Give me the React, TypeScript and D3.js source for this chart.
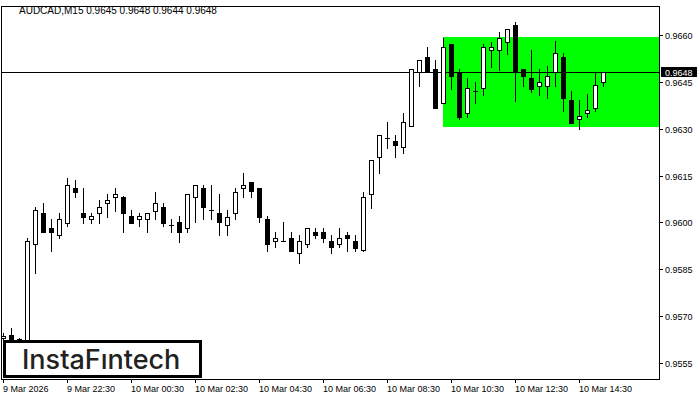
import React from "react";
import * as d3 from "d3";

const symbolTitle = "AUDCAD,M15  0.9645 0.9648 0.9644 0.9648";

const opens = [0.9563, 0.9564, 0.95627, 0.9561, 0.95931, 0.9603, 0.95982, 0.9596, 0.95998, 0.9611,
  0.9603, 0.96011, 0.9603, 0.96062, 0.96082, 0.96082, 0.96021, 0.96011, 0.96011, 0.96037,
  0.9605, 0.95992, 0.96002, 0.95982, 0.96082, 0.9611, 0.9604, 0.9603, 0.95992, 0.9603,
  0.9611, 0.9613, 0.9611, 0.96011, 0.95941, 0.95941, 0.9595, 0.95902, 0.95931, 0.9597,
  0.9597, 0.95941, 0.95931, 0.9596, 0.95941, 0.95912, 0.96091, 0.9621, 0.9627, 0.96261,
  0.96242, 0.96309, 0.96482, 0.9653, 0.96491, 0.96382, 0.96571, 0.96482, 0.9635, 0.96421,
  0.9643, 0.96552, 0.96552, 0.96578, 0.96632, 0.96491, 0.96462, 0.96437, 0.96437, 0.96482,
  0.9653, 0.96392, 0.96331, 0.9635, 0.96366, 0.9645];
const highs = [0.95645, 0.95662, 0.9563, 0.9595, 0.9605, 0.96062, 0.96011, 0.9603, 0.96142, 0.96136,
  0.9611, 0.9603, 0.96072, 0.96091, 0.9611, 0.96085, 0.9604, 0.9603, 0.9603, 0.96098,
  0.96062, 0.96011, 0.96021, 0.96091, 0.9612, 0.9612, 0.9612, 0.96091, 0.9604, 0.9611,
  0.96158, 0.9613, 0.9611, 0.96021, 0.9597, 0.96002, 0.9597, 0.9596, 0.95982, 0.95982,
  0.95982, 0.9596, 0.95982, 0.9597, 0.9596, 0.96098, 0.962, 0.9628, 0.96322, 0.9628,
  0.9635, 0.96491, 0.9652, 0.96562, 0.9652, 0.9659, 0.96571, 0.96491, 0.96462, 0.9645,
  0.96571, 0.96578, 0.9661, 0.96619, 0.96642, 0.96491, 0.96552, 0.96491, 0.96501, 0.96581,
  0.96542, 0.96421, 0.96392, 0.96411, 0.96482, 0.96482];
const lows = [0.9562, 0.95624, 0.9562, 0.956, 0.95838, 0.9597, 0.95909, 0.9595, 0.95989, 0.96082,
  0.95998, 0.95998, 0.95998, 0.96018, 0.96037, 0.9597, 0.95998, 0.95989, 0.9597, 0.96011,
  0.95989, 0.9597, 0.95938, 0.9597, 0.96002, 0.96011, 0.96011, 0.9596, 0.9596, 0.96011,
  0.96082, 0.96082, 0.96002, 0.95909, 0.95922, 0.95941, 0.95909, 0.9587, 0.95922, 0.9595,
  0.95938, 0.95902, 0.95922, 0.95909, 0.95909, 0.95909, 0.96046, 0.96158, 0.96238, 0.9621,
  0.96222, 0.96309, 0.96437, 0.96482, 0.96366, 0.96382, 0.96427, 0.96331, 0.96338, 0.96382,
  0.96408, 0.96498, 0.96488, 0.96539, 0.96389, 0.96437, 0.96418, 0.96408, 0.96398, 0.96437,
  0.96357, 0.96318, 0.96299, 0.96338, 0.96357, 0.96437];
const closes = [0.95635, 0.95624, 0.95627, 0.95941, 0.9604, 0.9597, 0.9597, 0.96011, 0.9612, 0.96098,
  0.96018, 0.96021, 0.9605, 0.96072, 0.96091, 0.9603, 0.95998, 0.96021, 0.9603, 0.96062,
  0.95998, 0.95992, 0.9597, 0.96091, 0.9612, 0.9605, 0.9604, 0.96002, 0.96018, 0.96098,
  0.9612, 0.96101, 0.96018, 0.95931, 0.9595, 0.95941, 0.95909, 0.95941, 0.95982, 0.9596,
  0.9595, 0.95922, 0.9595, 0.9595, 0.95918, 0.96082, 0.962, 0.9628, 0.9627, 0.96248,
  0.96322, 0.96491, 0.9652, 0.96482, 0.96366, 0.96562, 0.96469, 0.96338, 0.9643, 0.96421,
  0.96562, 0.96562, 0.9659, 0.96619, 0.96482, 0.96469, 0.96427, 0.9645, 0.96469, 0.96542,
  0.96398, 0.96318, 0.96341, 0.9636, 0.9644, 0.96482];

const timeLabels = ["9 Mar 2026", "9 Mar 22:30", "10 Mar 00:30", "10 Mar 02:30", "10 Mar 04:30",
  "10 Mar 06:30", "10 Mar 08:30", "10 Mar 10:30", "10 Mar 12:30", "10 Mar 14:30"];
const timeLabelIndex = [0, 8, 16, 24, 32, 40, 48, 56, 64, 72];
const priceTicks = [0.9555, 0.957, 0.9585, 0.96, 0.9615, 0.963, 0.9645, 0.966];
const currentPrice = 0.9648;
const zoneTop = 0.96593;
const zoneBottom = 0.96305;
const zoneStartIndex = 55;

const W = 700;
const H = 400;
const plotLeft = 1;
const plotRight = 659;
const plotTop = 6;
const plotBottom = 379;
const FONT = "'Liberation Sans', Arial, sans-serif";

export default function App() {
  const y = d3.scaleLinear().domain([0.9555, 0.966]).range([363, 35]);
  const x = d3.scaleLinear().domain([0, 75]).range([3, 603]);
  const py = (v: number) => Math.round(y(v));
  const fmt = d3.format(".4f");

  const candles = opens.map((o, i) => {
    const c = closes[i];
    const cx = Math.round(x(i)) + 0.5;
    const yh = py(highs[i]);
    const yl = py(lows[i]);
    const yTop = py(Math.max(o, c));
    const yBot = py(Math.min(o, c));
    const bull = c >= o;
    return (
      <g key={i}>
        <line x1={cx} x2={cx} y1={yh} y2={yl + 1} stroke="#000" strokeWidth={1} />
        {yBot - yTop <= 0 ? (
          <line x1={cx - 2.5} x2={cx + 2.5} y1={yTop + 0.5} y2={yTop + 0.5} stroke="#000" strokeWidth={1} />
        ) : (
          <rect x={cx - 2} y={yTop + 0.5} width={4} height={yBot - yTop}
            fill={bull ? "#fff" : "#000"} stroke="#000" strokeWidth={1} />
        )}
      </g>
    );
  });

  const zx = Math.round(x(zoneStartIndex));

  return (
    <svg width={W} height={H} style={{ position: "absolute", left: 0, top: 0, background: "#fff" }}>
      <rect x={0} y={0} width={W} height={H} fill="#fff" />
      <rect x={zx} y={py(zoneTop)} width={plotRight - zx} height={py(zoneBottom) - py(zoneTop)} fill="#00ff00" />
      <line x1={plotLeft} x2={plotRight} y1={py(currentPrice) + 0.5} y2={py(currentPrice) + 0.5} stroke="#000" strokeWidth={1} />
      {candles}
      {/* frame */}
      <rect x={plotLeft + 0.5} y={plotTop + 0.5} width={plotRight - plotLeft} height={plotBottom - plotTop}
        fill="none" stroke="#000" strokeWidth={1} />
      {/* title */}
      <text x={19} y={14} fontFamily={FONT} fontSize={10} fill="#000">{symbolTitle}</text>
      {/* price axis */}
      {priceTicks.map((t) => (
        <g key={t}>
          <line x1={plotRight + 0.5} x2={plotRight + 4} y1={py(t) + 0.5} y2={py(t) + 0.5} stroke="#000" />
          <text x={665} y={py(t) + 4} fontFamily={FONT} fontSize={9} fill="#000">{fmt(t)}</text>
        </g>
      ))}
      <rect x={661} y={py(currentPrice) - 5} width={36} height={10} fill="#000" />
      <text x={665} y={py(currentPrice) + 4} fontFamily={FONT} fontSize={9} fill="#fff">{fmt(currentPrice)}</text>
      {/* time axis */}
      {timeLabels.map((lab, k) => {
        const tx = Math.round(x(timeLabelIndex[k])) + 0.5;
        return (
          <g key={lab}>
            <line x1={tx} x2={tx} y1={plotBottom} y2={plotBottom + 4} stroke="#000" />
            <text x={tx - 0.5} y={392} fontFamily={FONT} fontSize={9} fill="#000">{lab}</text>
          </g>
        );
      })}
      {/* logo */}
      <rect x={4.5} y={341.5} width={196} height={35} fill="#fff" stroke="#000" strokeWidth={3} />
      <text x={22} y={369} fontFamily="Inter, 'Noto Sans', sans-serif" fontWeight={500} fontSize={27} fill="#222">InstaFıntech</text>
    </svg>
  );
}
